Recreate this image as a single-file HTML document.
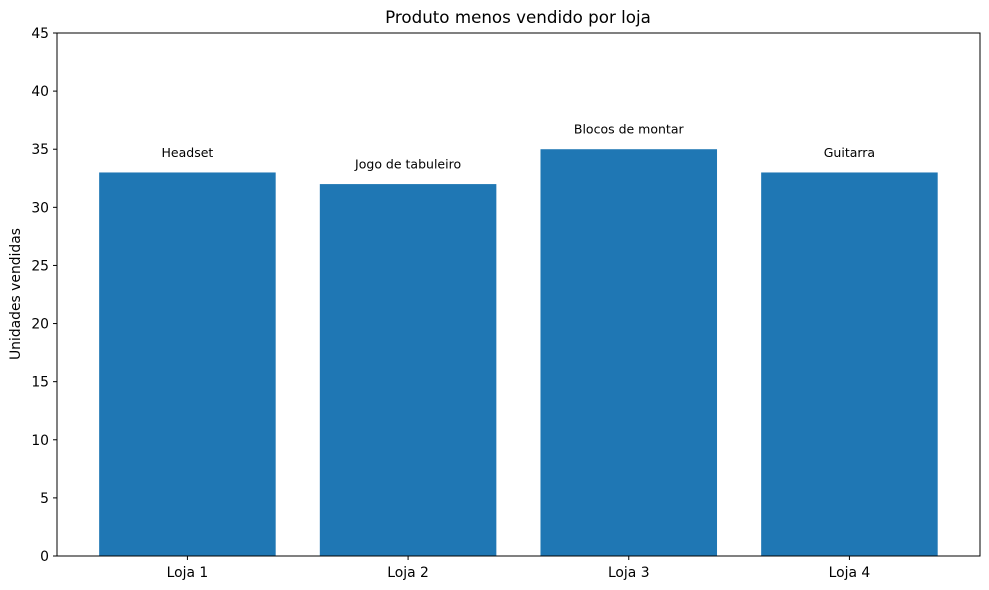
<!DOCTYPE html>
<html><head><meta charset="utf-8"><style>
body{margin:0;background:#fff;font-family:"DejaVu Sans","Liberation Sans",sans-serif;}
svg{display:block}
</style></head><body>
<svg id="chart" width="989" height="590" font-family="DejaVu Sans, Liberation Sans, sans-serif">
<text x="518" y="23" text-anchor="middle" font-size="16.7">Produto menos vendido por loja</text>
<text transform="translate(20,294) rotate(-90)" text-anchor="middle" font-size="13.9">Unidades vendidas</text>
<g id="bars"></g>
<g id="yticks"></g>
<g id="xticks"></g>
<rect x="57" y="33" width="923" height="523" fill="none" stroke="#000" stroke-width="1"/>
</svg>
<script>
const categories=["Loja 1","Loja 2","Loja 3","Loja 4"];
const values=[33,32,35,33];
const products=["Headset","Jogo de tabuleiro","Blocos de montar","Guitarra"];
const yTicks=[0,5,10,15,20,25,30,35,40,45];
const NS="http://www.w3.org/2000/svg";
const L=57,R=980,T=33,B=556,yMax=45;
const y=v=>B-(v/yMax)*(B-T);
const xs=220.67;
const x=i=>L+(i+0.591)*xs;
function mk(tag,attrs,parent){const e=document.createElementNS(NS,tag);for(const k in attrs)e.setAttribute(k,attrs[k]);parent.appendChild(e);return e;}
const gb=document.getElementById('bars'),gy=document.getElementById('yticks'),gx=document.getElementById('xticks');
values.forEach((v,i)=>{
 const w=0.8*xs;
 const r=mk('rect',{x:x(i)-w/2,y:y(v),width:w,height:B-y(v),fill:'#1f77b4'},gb);
 
 
 const t=mk('text',{x:x(i),y:y(v+1)-4,'text-anchor':'middle','font-size':'12.5'},gb);
 t.textContent=products[i];
 
 
 mk('line',{x1:x(i),x2:x(i),y1:B,y2:B+4,stroke:'#000'},gx);
 const xl=mk('text',{x:x(i),y:B+21,'text-anchor':'middle','font-size':'13.9'},gx);
 xl.textContent=categories[i];
 
 
});
yTicks.forEach(v=>{
 mk('line',{x1:L-4,x2:L,y1:y(v),y2:y(v),stroke:'#000'},gy);
 const t=mk('text',{x:L-8,y:y(v)+5,'text-anchor':'end','font-size':'13.9'},gy);
 t.textContent=v;
 
 
});
</script>
</body></html>
